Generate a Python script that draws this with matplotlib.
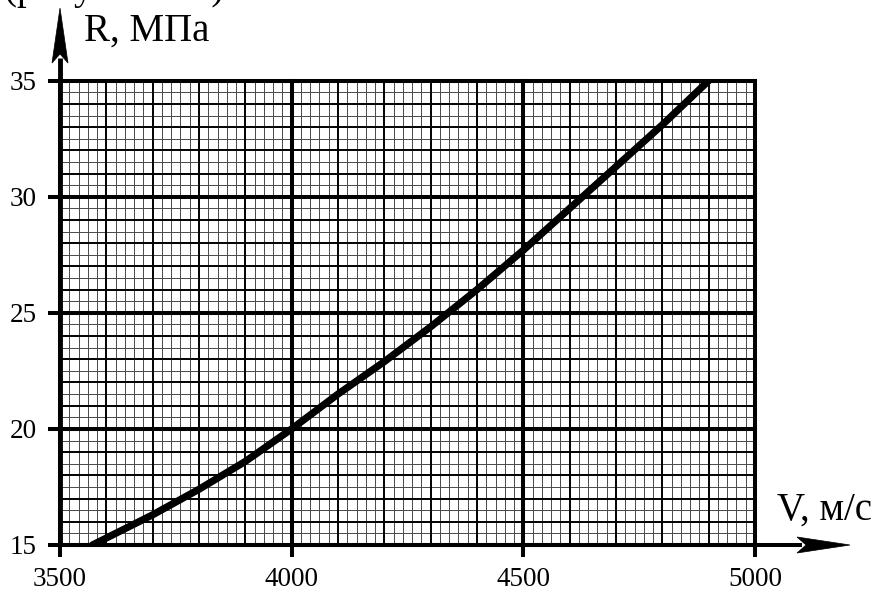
import matplotlib
matplotlib.use('Agg')
import matplotlib.pyplot as plt
import numpy as np
from matplotlib.patches import Polygon

# ---- data ----
V = [3570, 3600, 3700, 3800, 3900, 4000, 4100, 4200, 4300, 4400, 4500, 4600, 4700, 4800, 4900]
R = [15.0, 15.3, 16.3, 17.4, 18.6, 20.0, 21.5, 22.9, 24.4, 26.0, 27.7, 29.5, 31.3, 33.1, 35.0]
x_ticks = [3500, 4000, 4500, 5000]
y_ticks = [15, 20, 25, 30, 35]
x_label = "V, м/с"
y_label = "R, МПа"
caption = "(рисунок 2.1)"

plt.rcParams['font.family'] = ['Liberation Serif', 'DejaVu Serif']

W, H = 885, 592
fig = plt.figure(figsize=(W / 100, H / 100), dpi=100)
ax_l, ax_r, ax_t, ax_b = 60, 755, 80.7, 545
ax = fig.add_axes([ax_l / W, 1 - ax_b / H, (ax_r - ax_l) / W, (ax_b - ax_t) / H])
ax.set_xlim(x_ticks[0], x_ticks[-1])
ax.set_ylim(y_ticks[0], y_ticks[-1])
for s in ax.spines.values():
    s.set_visible(False)

LW_MAJ, LW_MED, LW_MIN = 2.9, 1.4, 0.7

# millimetre-paper grid
for i in range(0, 76):
    xv = 3500 + 20 * i
    if i % 25 == 0:
        ax.axvline(xv, lw=LW_MAJ, color='k', zorder=2, clip_on=False)
    elif i % 5 == 0:
        ax.axvline(xv, lw=LW_MED, color='k', zorder=1.5)
    else:
        ax.axvline(xv, lw=LW_MIN, color='#484848', zorder=1)
for j in range(0, 41):
    yv = 15 + 0.5 * j
    if j % 10 == 0:
        ax.axhline(yv, lw=LW_MAJ, color='k', zorder=2, clip_on=False)
    elif j % 2 == 0:
        ax.axhline(yv, lw=LW_MED, color='k', zorder=1.5)
    else:
        ax.axhline(yv, lw=LW_MIN, color='#484848', zorder=1)

# curve
ax.plot(V, R, color='k', lw=5.2, solid_capstyle='round', zorder=3)

# ticks
ax.set_xticks(x_ticks)
ax.set_yticks(y_ticks)
ax.tick_params(which='major', length=8.6, width=LW_MAJ, direction='out',
               labelsize=19.5, pad=7, color='k')
ax.tick_params(axis='y', pad=8)

# axes with arrows (in figure pixels)
def fx(px):
    return px / W

def fy(py):
    return 1 - py / H

fig.add_artist(plt.Line2D([fx(ax_l), fx(ax_l)], [fy(ax_b), fy(58)], lw=LW_MAJ + 0.6,
                          color='k', solid_capstyle='butt'))
fig.add_artist(plt.Line2D([fx(ax_l), fx(802)], [fy(ax_b), fy(ax_b)], lw=LW_MAJ,
                          color='k', solid_capstyle='butt'))
yarrow = [(60, 8), (68, 63), (60, 54), (52, 63)]
xarrow = [(850, 545), (797, 537), (806, 545), (797, 553)]
for pts in (yarrow, xarrow):
    fig.add_artist(Polygon([(fx(a), fy(b)) for a, b in pts], closed=True,
                           facecolor='k', edgecolor='k', lw=0.5,
                           transform=fig.transFigure))

# labels
fig.text(fx(84), fy(40.5), y_label, fontsize=28, ha='left', va='baseline')
fig.text(fx(777), fy(520), x_label, fontsize=28, ha='left', va='baseline')
fig.text(fx(4), fy(-0.5), caption, fontsize=28, ha='left', va='baseline')

fig.savefig('out.png', dpi=100, facecolor='white')
